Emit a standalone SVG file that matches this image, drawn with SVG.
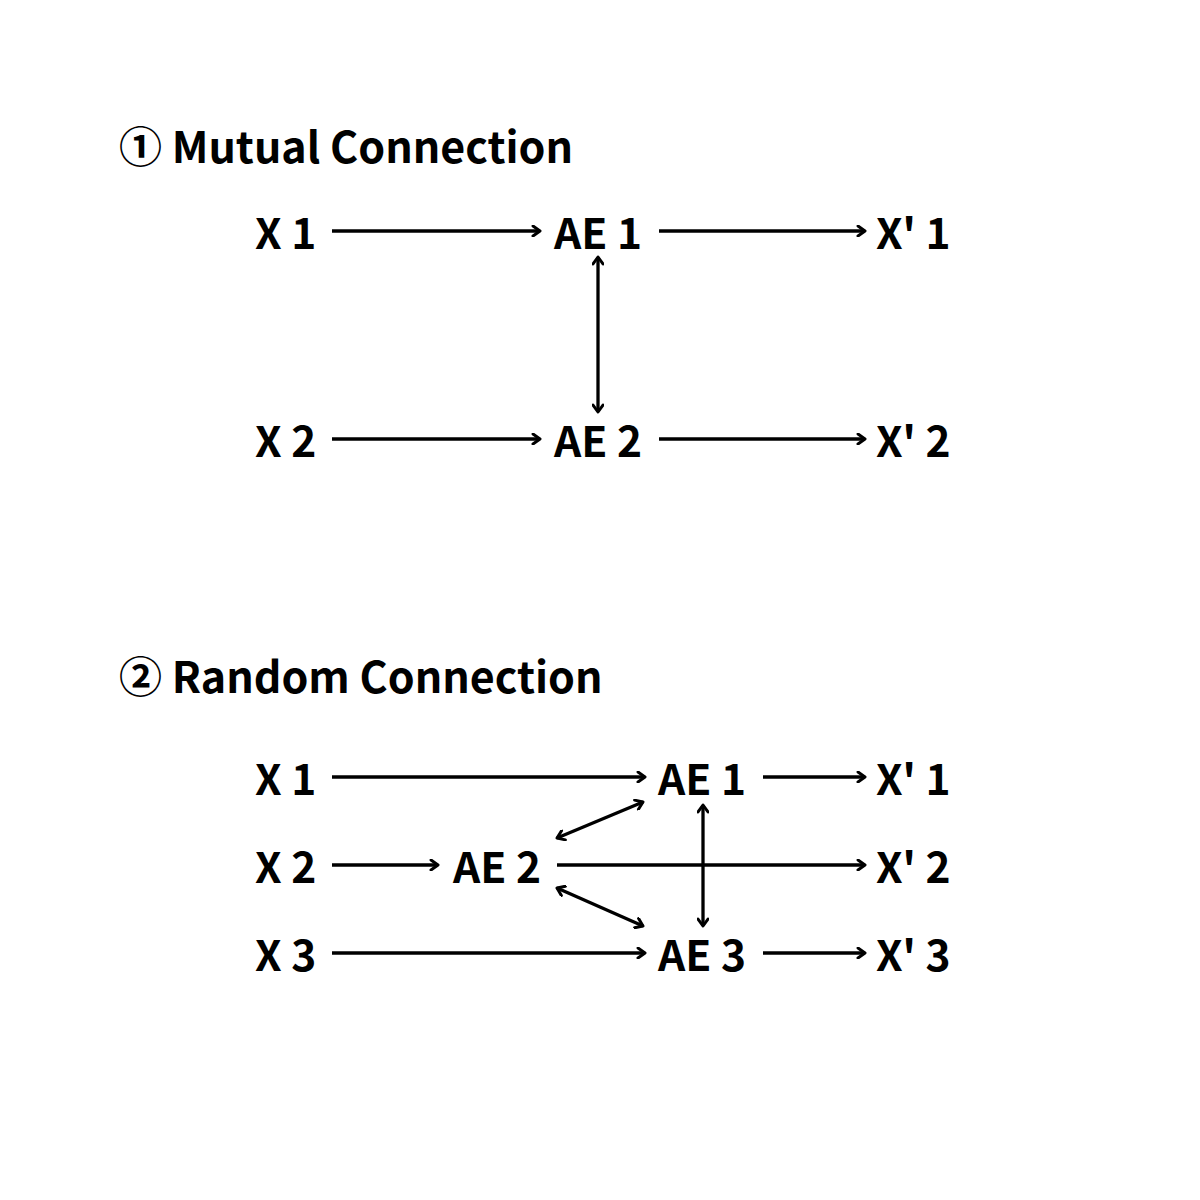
<svg xmlns="http://www.w3.org/2000/svg" width="1200" height="1200" viewBox="0 0 1200 1200">
<defs>
<marker id="ah" viewBox="0 0 12 12" refX="10" refY="6" markerWidth="12" markerHeight="12" markerUnits="userSpaceOnUse" orient="auto-start-reverse">
<path d="M3,1 L10,6 L3,11" fill="none" stroke="#000" stroke-width="3" stroke-linecap="round" stroke-linejoin="round"/>
</marker>
</defs>
<style>
text{font-family:"Noto Sans CJK SC","Noto Sans",sans-serif;font-weight:bold;fill:#000}
.lb{font-size:42.5px}
.tt{font-size:43px}
.c{stroke:#000;stroke-width:3.3;fill:none}
.a{marker-end:url(#ah)}
.d{marker-start:url(#ah);marker-end:url(#ah)}
</style>
<rect width="1200" height="1200" fill="#fff"/>
<text class="tt" x="119" y="163">① Mutual Connection</text>
<text class="tt" x="119" y="693">② Random Connection</text>
<g id="connectors">
<line class="c a" x1="332" y1="231" x2="540" y2="231"/>
<line class="c a" x1="659" y1="231" x2="865" y2="231"/>
<line class="c d" x1="598" y1="257" x2="598" y2="412"/>
<line class="c a" x1="332" y1="439" x2="540" y2="439"/>
<line class="c a" x1="659" y1="439" x2="865" y2="439"/>
<line class="c a" x1="332" y1="777" x2="645" y2="777"/>
<line class="c a" x1="763" y1="777" x2="865" y2="777"/>
<line class="c a" x1="332" y1="865" x2="438" y2="865"/>
<line class="c a" x1="557" y1="865" x2="865" y2="865"/>
<line class="c a" x1="332" y1="953" x2="645" y2="953"/>
<line class="c a" x1="763" y1="953" x2="865" y2="953"/>
<line class="c d" x1="557" y1="838" x2="643" y2="802"/>
<line class="c d" x1="557" y1="888" x2="643" y2="926"/>
<line class="c d" x1="703" y1="805" x2="703" y2="926"/>
</g>
<g id="m-x1"><text class="lb" x="255" y="249">X 1</text></g>
<g id="m-ae1"><text class="lb" x="554" y="249">AE 1</text></g>
<g id="m-xp1"><text class="lb" x="876" y="249">X' 1</text></g>
<g id="m-x2"><text class="lb" x="255" y="457">X 2</text></g>
<g id="m-ae2"><text class="lb" x="554" y="457">AE 2</text></g>
<g id="m-xp2"><text class="lb" x="876" y="457">X' 2</text></g>
<g id="r-x1"><text class="lb" x="255" y="795">X 1</text></g>
<g id="r-ae1"><text class="lb" x="658" y="795">AE 1</text></g>
<g id="r-xp1"><text class="lb" x="876" y="795">X' 1</text></g>
<g id="r-x2"><text class="lb" x="255" y="883">X 2</text></g>
<g id="r-ae2"><text class="lb" x="453" y="883">AE 2</text></g>
<g id="r-xp2"><text class="lb" x="876" y="883">X' 2</text></g>
<g id="r-x3"><text class="lb" x="255" y="971">X 3</text></g>
<g id="r-ae3"><text class="lb" x="658" y="971">AE 3</text></g>
<g id="r-xp3"><text class="lb" x="876" y="971">X' 3</text></g>
</svg>
